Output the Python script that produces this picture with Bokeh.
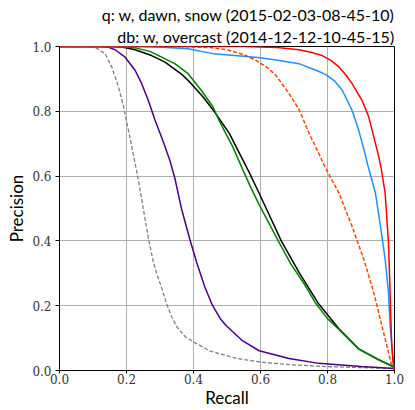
from bokeh.plotting import figure
from bokeh.models import Range1d, FixedTicker, Title
from bokeh.embed import file_html
from bokeh.resources import INLINE

# Precision-recall curves, one per matching method
gray_recall = [0.0, 0.08, 0.107, 0.136, 0.156, 0.176, 0.191, 0.201, 0.216, 0.226, 0.235, 0.25, 0.265, 0.28, 0.29, 0.305, 0.32, 0.335, 0.35, 0.375, 0.40, 0.45, 0.53, 0.60, 0.70, 0.80, 0.90, 1.0]
gray_precision = [1.0, 1.0, 0.997, 0.978, 0.937, 0.875, 0.815, 0.765, 0.69, 0.638, 0.59, 0.50, 0.41, 0.335, 0.30, 0.255, 0.205, 0.165, 0.135, 0.105, 0.088, 0.06, 0.037, 0.026, 0.017, 0.012, 0.009, 0.006]

purple_recall = [0.0, 0.12, 0.145, 0.166, 0.196, 0.226, 0.245, 0.265, 0.285, 0.31, 0.329, 0.344, 0.364, 0.389, 0.409, 0.433, 0.457, 0.48, 0.498, 0.546, 0.596, 0.685, 0.774, 0.90, 1.0]
purple_precision = [1.0, 1.0, 0.998, 0.99, 0.967, 0.926, 0.886, 0.834, 0.773, 0.705, 0.65, 0.595, 0.50, 0.405, 0.335, 0.26, 0.2, 0.16, 0.138, 0.092, 0.061, 0.037, 0.022, 0.012, 0.006]

black_recall = [0.0, 0.15, 0.19, 0.226, 0.275, 0.315, 0.364, 0.389, 0.404, 0.428, 0.458, 0.468, 0.507, 0.537, 0.567, 0.591, 0.62, 0.662, 0.715, 0.774, 0.834, 0.893, 0.95, 1.0]
black_precision = [1.0, 1.0, 0.998, 0.99, 0.972, 0.952, 0.915, 0.89, 0.873, 0.845, 0.805, 0.79, 0.732, 0.671, 0.61, 0.558, 0.494, 0.40, 0.303, 0.205, 0.129, 0.067, 0.035, 0.01]

green_recall = [0.0, 0.18, 0.23, 0.27, 0.305, 0.344, 0.384, 0.423, 0.458, 0.478, 0.517, 0.547, 0.572, 0.596, 0.653, 0.69, 0.735, 0.763, 0.80, 0.834, 0.893, 0.95, 1.0]
green_precision = [1.0, 1.0, 0.995, 0.985, 0.967, 0.947, 0.916, 0.865, 0.814, 0.768, 0.691, 0.62, 0.563, 0.512, 0.40, 0.33, 0.26, 0.21, 0.16, 0.127, 0.066, 0.034, 0.01]

blue_recall = [0.0, 0.25, 0.32, 0.384, 0.458, 0.55, 0.60, 0.656, 0.715, 0.769, 0.794, 0.82, 0.844, 0.873, 0.893, 0.908, 0.92, 0.943, 0.958, 0.972, 0.982, 0.987, 0.993, 1.0]
blue_precision = [1.0, 1.0, 0.997, 0.993, 0.978, 0.97, 0.965, 0.957, 0.947, 0.925, 0.914, 0.895, 0.865, 0.804, 0.742, 0.685, 0.635, 0.548, 0.446, 0.344, 0.241, 0.139, 0.06, 0.01]

orange_recall = [0.0, 0.35, 0.45, 0.50, 0.55, 0.587, 0.62, 0.646, 0.685, 0.715, 0.745, 0.769, 0.794, 0.834, 0.873, 0.908, 0.938, 0.962, 0.982, 0.99, 1.0]
orange_precision = [1.0, 1.0, 0.997, 0.99, 0.975, 0.957, 0.935, 0.911, 0.855, 0.806, 0.732, 0.681, 0.625, 0.548, 0.446, 0.344, 0.241, 0.139, 0.057, 0.02, 0.005]

red_recall = [0.0, 0.55, 0.65, 0.715, 0.75, 0.784, 0.81, 0.834, 0.855, 0.873, 0.903, 0.923, 0.938, 0.953, 0.96, 0.972, 0.982, 0.985, 0.988, 0.991, 0.995, 1.0]
red_precision = [1.0, 1.0, 0.997, 0.99, 0.982, 0.972, 0.957, 0.937, 0.912, 0.886, 0.834, 0.783, 0.722, 0.66, 0.625, 0.548, 0.395, 0.30, 0.2, 0.1, 0.03, 0.0]

ticks = [0.0, 0.2, 0.4, 0.6, 0.8, 1.0]
tick_labels = ["0.0", "0.2", "0.4", "0.6", "0.8", "1.0"]

title_query = "q: w, dawn, snow (2015-02-03-08-45-10)"
title_db = "db: w, overcast (2014-12-12-10-45-15)"

SANS = "Lato"
SERIF = "DejaVu Serif"

p = figure(width=415, height=410, output_backend="svg", toolbar_location=None,
           x_range=Range1d(0, 1), y_range=Range1d(0, 1),
           min_border_left=59, min_border_right=21, min_border_top=46, min_border_bottom=38,
           x_axis_label="Recall", y_axis_label="Precision")

# two-line title, right aligned over the plot frame: query line on top, database line under it
p.title.text = title_query
p.title.align = "right"
p.title.text_font = SANS
p.title.text_font_size = "16px"
p.title.text_font_style = "normal"
p.title.text_color = "black"
p.title.standoff = 0
p.add_layout(Title(text=title_db, align="right", text_font=SANS, text_font_size="16px",
                   text_font_style="normal", text_color="black", standoff=2), "above")

p.outline_line_color = "black"
p.outline_line_width = 1
p.background_fill_color = "white"
p.border_fill_color = "white"

for ax in (p.xaxis, p.yaxis):
    ax.ticker = FixedTicker(ticks=ticks)
    ax.major_label_overrides = {t: s for t, s in zip(ticks, tick_labels)}
    ax.major_label_text_font = SERIF
    ax.major_label_text_font_size = "12px"
    ax.major_label_text_color = "#333333"
    ax.minor_tick_line_color = None
    ax.major_tick_in = 0
    ax.major_tick_out = 4
    ax.axis_line_color = "black"
    ax.axis_label_text_font = SANS
    ax.axis_label_text_font_size = "17px"
    ax.axis_label_text_font_style = "normal"
    ax.axis_label_text_color = "black"

p.xaxis.axis_label_standoff = 0
p.yaxis.axis_label_standoff = 2
p.xaxis.major_label_standoff = 0
p.yaxis.major_label_standoff = 4
p.xaxis.major_tick_out = 3

p.grid.grid_line_color = "#b0b0b0"
p.grid.grid_line_width = 1

p.line(gray_recall, gray_precision, line_color="gray", line_width=1.3, line_dash="4 2")
p.line(purple_recall, purple_precision, line_color="indigo", line_width=1.5)
p.line(black_recall, black_precision, line_color="black", line_width=1.5)
p.line(green_recall, green_precision, line_color="green", line_width=1.5)
p.line(blue_recall, blue_precision, line_color="#1E90FF", line_width=1.5)
p.line(orange_recall, orange_precision, line_color="orangered", line_width=1.5, line_dash="4 2")
p.line(red_recall, red_precision, line_color="red", line_width=1.5)

open("out.html", "w").write(file_html(p, INLINE))
